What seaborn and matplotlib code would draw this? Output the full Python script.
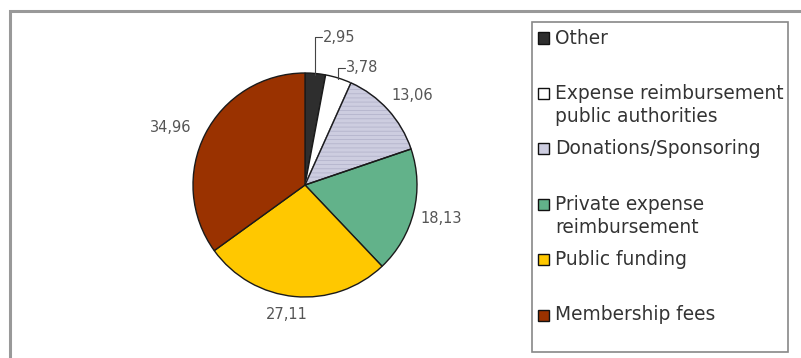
import numpy as np
import matplotlib
matplotlib.use("Agg")
import matplotlib.pyplot as plt
from matplotlib.patches import Rectangle, Wedge
import seaborn as sns

# ---- data ----
categories = ["Other", "Expense reimbursement\npublic authorities", "Donations/Sponsoring",
              "Private expense\nreimbursement", "Public funding", "Membership fees"]
values = [2.95, 3.78, 13.06, 18.13, 27.11, 34.96]
value_labels = ["2,95", "3,78", "13,06", "18,13", "27,11", "34,96"]
slice_colors = ["#2e2e2e", "#ffffff", "#cdcde0", "#62b28a", "#ffc800", "#9a3200"]

sns.set_theme(style="white")
plt.rcParams["font.family"] = ["DejaVu Sans"]
plt.rcParams["hatch.linewidth"] = 0.6

W, H = 801, 358
fig = plt.figure(figsize=(W / 100, H / 100), dpi=100)
fig.patch.set_facecolor("white")

# pie geometry (pixels)
cx, cy, R = 305, 185, 112
half_w, half_h = 185, 170
ax = fig.add_axes([(cx - half_w) / W, (H - (cy + half_h)) / H, 2 * half_w / W, 2 * half_h / H])
palette = sns.color_palette(slice_colors)
wedges, _ = ax.pie(values, colors=palette, startangle=90, counterclock=False,
                   wedgeprops=dict(edgecolor="#1a1a1a", linewidth=1.0))
ax.set_aspect("auto")
ax.set_xlim(-half_w / R, half_w / R)
ax.set_ylim(-half_h / R, half_h / R)
ax.axis("off")

# hatch on Donations/Sponsoring
w = wedges[2]
w.set_hatch("----")
w.set_edgecolor("#b4b4cc")
ax.add_patch(Wedge(w.center, w.r, w.theta1, w.theta2, fill=False,
                   edgecolor="#1a1a1a", linewidth=1.0))

# value labels
label_color = "#555555"
fs_lab = 10.5
total = sum(values)
cum = np.cumsum([0] + values[:-1])
mids = [90 - (c + v / 2) / total * 360 for c, v in zip(cum, values)]
dist = [None, None, 1.25, 1.25, 1.17, 1.30]
shift = [0, 0, -2.5, 0, -2.5, 4]
for i, (m, lab) in enumerate(zip(mids, value_labels)):
    if dist[i] is None:
        a = np.deg2rad(m)
        x0, y0 = np.cos(a) * 0.99, np.sin(a) * 0.99
        top = 1.32 if i == 0 else 1.045
        ax.plot([x0, x0, x0 + 0.06], [y0, top, top], color="#444444", lw=0.8,
                clip_on=False)
        ax.text(x0 + 0.07, top, lab, ha="left", va="center", fontsize=fs_lab,
                color=label_color)
    else:
        a = np.deg2rad(m + shift[i])
        ax.text(np.cos(a) * dist[i], np.sin(a) * dist[i], lab, ha="center",
                va="center", fontsize=fs_lab, color=label_color)

# outer frame
fig.add_artist(Rectangle((10 / W, -0.1), 1.2, 1.1 - 11 / H, transform=fig.transFigure,
                         fill=False, edgecolor="#999999", linewidth=2.2))

# legend (manual)
lx0, ly0, lx1, ly1 = 532, 22, 788, 352
fig.add_artist(Rectangle((lx0 / W, 1 - ly1 / H), (lx1 - lx0) / W, (ly1 - ly0) / H,
                         transform=fig.transFigure, fill=False,
                         edgecolor="#888888", linewidth=1.2))
step = 55.4
for i, (cat, col) in enumerate(zip(categories, palette)):
    yc = 38 + step * i
    fig.add_artist(Rectangle((538 / W, 1 - (yc + 5.5) / H), 11 / W, 11 / H,
                             transform=fig.transFigure, facecolor=col,
                             edgecolor="#111111", linewidth=1.0))
    for k, line in enumerate(cat.split("\n")):
        fig.text(555 / W, 1 - (yc + 23 * k) / H, line, ha="left", va="center",
                 fontsize=13.4, color="#333333")

fig.savefig("out.png", dpi=100, facecolor="white")
